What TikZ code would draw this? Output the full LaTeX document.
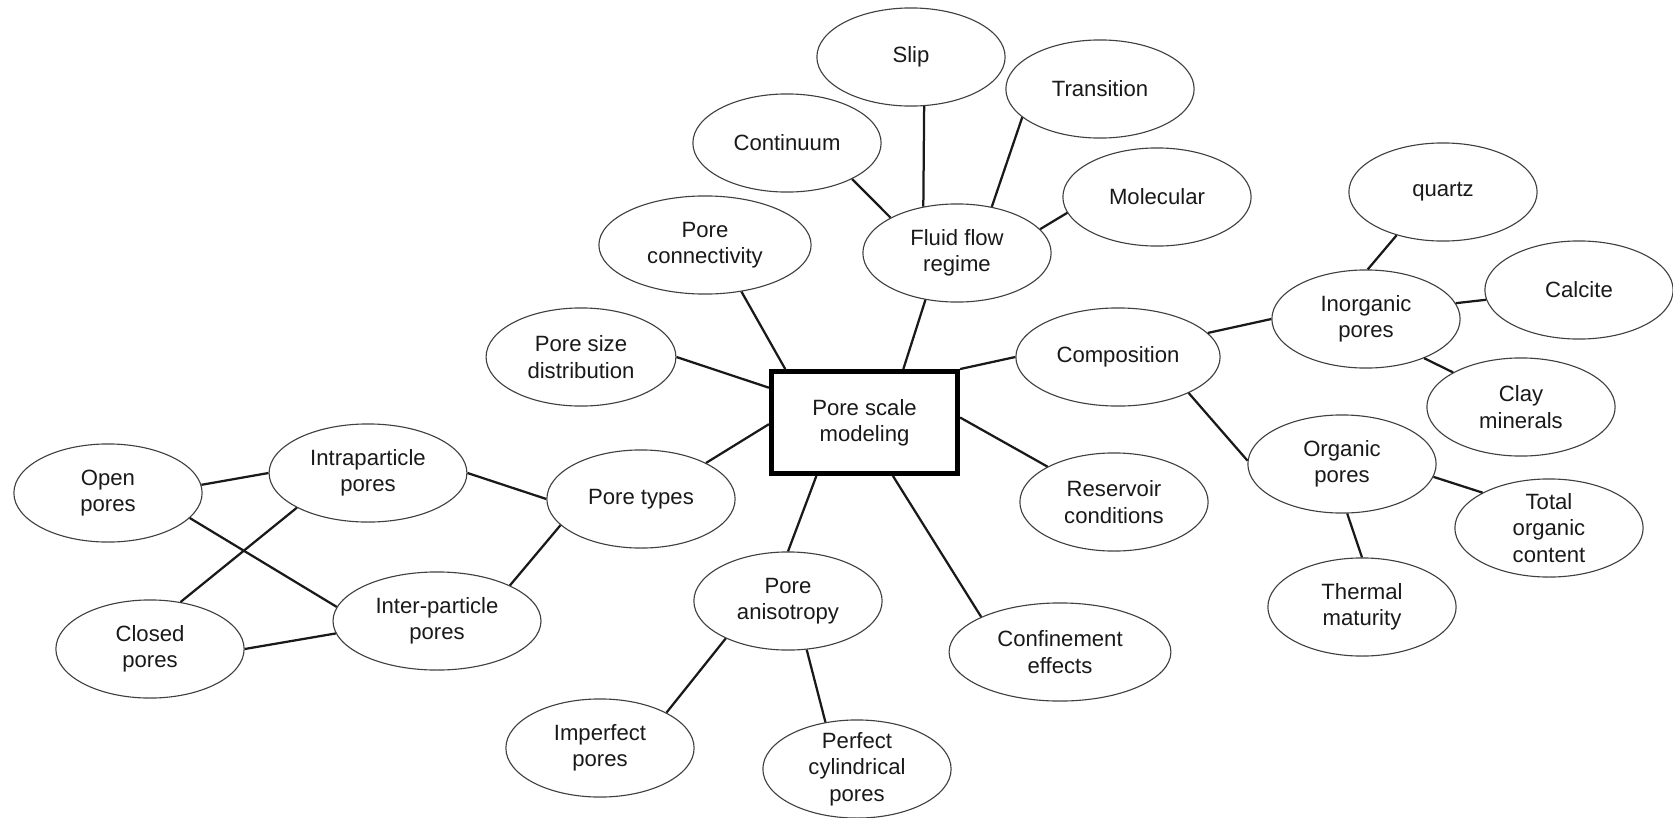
\documentclass[tikz,border=0pt]{standalone}
\usepackage{fontspec}
\setmainfont{Liberation Sans}
\usetikzlibrary{shapes.geometric}
\begin{document}
\begin{tikzpicture}[x=0.01875cm,y=-0.01875cm,
  every node/.style={font=\fontsize{11.8}{14.1}\selectfont,text=black!90},
  bubble/.style={ellipse,draw=black!75,line width=0.6pt,minimum width=3.53cm,minimum height=1.84cm,inner sep=-3pt,align=center},
  link/.style={line width=1.2pt,black!90}]
  \useasboundingbox (0,0) rectangle (1673,818);
  % centre box
  \node[draw,line width=2.7pt,minimum width=3.49cm,minimum height=1.91cm,align=center] (hub) at (864.5,422.5) {Pore scale\\modeling};
  % flow regimes
  \node[bubble] (slip) at (911,57) {Slip};
  \node[bubble] (transition) at (1100,89) {Transition};
  \node[bubble] (continuum) at (787,143) {Continuum};
  \node[bubble] (molecular) at (1157,197) {Molecular};
  \node[bubble] (flow) at (957,253) {Fluid flow\\regime};
  \node[bubble,minimum width=3.98cm] (conn) at (705,245) {Pore\\connectivity};
  \node[bubble,minimum width=3.56cm] (psd) at (581,357) {Pore size\\distribution};
  % composition
  \node[bubble,minimum width=3.83cm] (comp) at (1118,357) {Composition};
  \node[bubble] (quartz) at (1443,192) {quartz};
  \node[bubble] (calcite) at (1579,290) {Calcite};
  \node[bubble] (inorg) at (1366,319) {Inorganic\\pores};
  \node[bubble] (clay) at (1521,407) {Clay\\minerals};
  \node[bubble] (org) at (1342,464) {Organic\\pores};
  \node[bubble] (toc) at (1549,528) {Total\\organic\\content};
  \node[bubble] (thermal) at (1362,607) {Thermal\\maturity};
  \node[bubble] (reservoir) at (1114,502) {Reservoir\\conditions};
  \node[bubble,minimum width=4.16cm] (confine) at (1060,652) {Confinement\\effects};
  % anisotropy
  \node[bubble] (aniso) at (788,601) {Pore\\anisotropy};
  \node[bubble] (imperfect) at (600,748) {Imperfect\\pores};
  \node[bubble] (perfect) at (857,769) {Perfect\\cylindrical\\pores};
  % pore types
  \node[bubble] (types) at (641,499) {Pore types};
  \node[bubble,minimum width=3.71cm] (intra) at (368,473) {Intraparticle\\pores};
  \node[bubble,minimum width=3.9cm] (inter) at (437,621) {Inter-particle\\pores};
  \node[bubble] (open) at (108,493) {Open\\pores};
  \node[bubble] (closed) at (150,649) {Closed\\pores};
  % connectors
  \draw[link] (continuum.-29) -- (flow.152);
  \draw[link] (slip.-75) -- (flow.126);
  \draw[link] (transition.200) -- (flow.53);
  \draw[link] (molecular.190) -- (flow.16);
  \draw[link] (flow.236) -- (hub.54);
  \draw[link] (conn.-52) -- (hub.146);
  \draw[link] (psd.0) -- (hub.160);
  \draw[link] (hub.north east) -- (comp.180);
  \draw[link] (comp.15) -- (inorg.180);
  \draw[link] (inorg.88) -- (quartz.223);
  \draw[link] (inorg.10) -- (calcite.186);
  \draw[link] (inorg.-34) -- (clay.153);
  \draw[link] (comp.-27) -- (org.178);
  \draw[link] (org.-8) -- (toc.152);
  \draw[link] (org.-84) -- (thermal.90);
  \draw[link] (hub.3) -- (reservoir.152);
  \draw[link] (hub.-62) -- (confine.156);
  \draw[link] (hub.228) -- (aniso.90);
  \draw[link] (aniso.211) -- (imperfect.28);
  \draw[link] (aniso.-69) -- (perfect.124);
  \draw[link] (hub.181) -- (types.29);
  \draw[link] (intra.0) -- (types.180);
  \draw[link] (inter.26) -- (types.198);
  \draw[link] (open.5) -- (intra.180);
  \draw[link] (open.-17) -- (inter.172);
  \draw[link] (intra.206) -- (closed.57);
  \draw[link] (closed.0) -- (inter.187);
\end{tikzpicture}
\end{document}
